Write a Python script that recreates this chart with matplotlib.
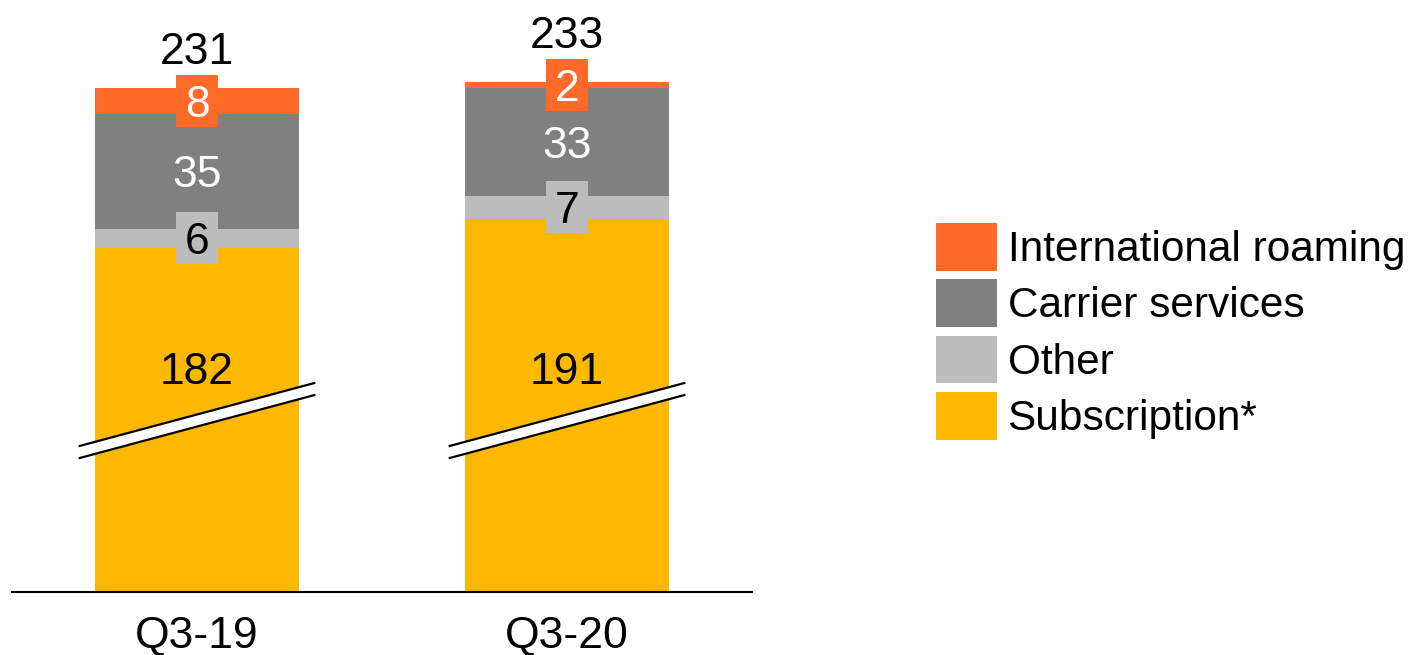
import matplotlib.pyplot as plt
from matplotlib.patches import Rectangle, Patch

plt.rcParams['font.family'] = ['Liberation Sans', 'DejaVu Sans']

# revenue split per quarter (stacked bottom -> top)
quarters = ['Q3-19', 'Q3-20']
subscription = [182, 191]
other = [6, 7]
carrier = [35, 33]
roaming = [8, 2]
totals = [231, 233]

names = ['Subscription*', 'Other', 'Carrier services', 'International roaming']
colors = ['#FFB800', '#BCBCBC', '#808080', '#FF6A28']
values = [subscription, other, carrier, roaming]
# (text colour, draw a box behind the number)
label_style = [('black', False), ('black', True), ('white', False), ('white', True)]

FS = 32
y_low, y_high = 76.5, 258.1       # axis starts above zero -> broken bars
sub_label_y = 145.2               # subscription numbers sit above the break
break_y = 129.1

fig = plt.figure(figsize=(14.12, 6.55), dpi=100)
ax = fig.add_axes([12 / 1412, 63 / 655, 740 / 1412, 592 / 655])

x = [0, 1]
width = 0.554
bottoms = [0, 0]
mids = []
for vals, col in zip(values, colors):
    ax.bar(x, vals, width, bottom=bottoms, color=col, zorder=2)
    mids.append([b + v / 2 for b, v in zip(bottoms, vals)])
    bottoms = [b + v for b, v in zip(bottoms, vals)]

# box size for small numbers (data units)
box_w, box_h = 0.111, 15.95
cap_off = -0.716 * FS / 2

for k, (vals, col) in enumerate(zip(values, colors)):
    tcol, boxed = label_style[k]
    for i in x:
        y = sub_label_y if k == 0 else mids[k][i]
        if boxed:
            ax.add_patch(Rectangle((i - box_w / 2, y - box_h / 2), box_w, box_h,
                                   facecolor=col, edgecolor='none', zorder=3))
        ax.annotate(str(vals[i]), (i, y), xytext=(0, cap_off), textcoords='offset points',
                    ha='center', va='baseline', fontsize=FS, color=tcol, zorder=4)

# totals above the roaming label box
for i in x:
    ax.text(i, mids[3][i] + box_h / 2 + 3.4, str(totals[i]), ha='center', va='baseline',
            fontsize=FS, color='black', zorder=4)

# break marks across the subscription segment
hw, hh, th = 0.317, 9.65, 1.85
for i in x:
    xs = [i - hw, i + hw]
    ax.fill([i - hw, i + hw, i + hw, i - hw],
            [break_y - hh - th, break_y + hh - th, break_y + hh + th, break_y - hh + th],
            color='white', zorder=3, clip_on=False)
    ax.plot(xs, [break_y - hh + th, break_y + hh + th], color='black', lw=1.6, zorder=3, clip_on=False)
    ax.plot(xs, [break_y - hh - th, break_y + hh - th], color='black', lw=1.6, zorder=3, clip_on=False)

ax.set_xlim(-0.5, 1.5)
ax.set_ylim(y_low, y_high)
for s in ['top', 'right', 'left']:
    ax.spines[s].set_visible(False)
ax.spines['bottom'].set_linewidth(1.5)
ax.set_yticks([])
ax.set_xticks(x, quarters, fontsize=FS)
ax.tick_params(axis='x', length=0, pad=17)

handles = [Patch(facecolor=c, label=n) for n, c in zip(names, colors)][::-1]
fig.legend(handles=handles, loc='upper left', bbox_to_anchor=(936 / 1412, 1 - 223 / 655),
           frameon=False, fontsize=30.5, handlelength=1.44, handleheight=1.36,
           handletextpad=0.25, labelspacing=0.2, borderpad=0, borderaxespad=0)

fig.savefig('out.png', dpi=100)
